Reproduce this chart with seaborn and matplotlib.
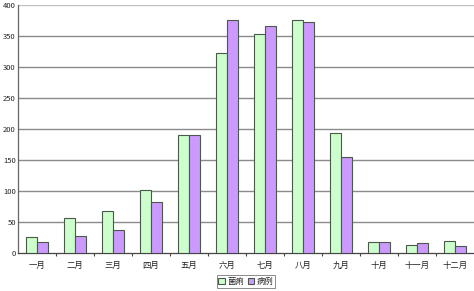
import matplotlib
matplotlib.use("Agg")
import matplotlib.pyplot as plt
from matplotlib.ticker import FixedLocator
import seaborn as sns
import pandas as pd

months = ["一月", "二月", "三月", "四月", "五月", "六月", "七月", "八月", "九月", "十月", "十一月", "十二月"]
series_a_name = "菌痢"
series_b_name = "病例"
series_a = [26, 57, 67, 101, 190, 323, 353, 376, 194, 18, 13, 19]
series_b = [18, 28, 37, 82, 191, 376, 366, 373, 155, 18, 16, 12]
yticks = [0, 50, 100, 150, 200, 250, 300, 350, 400]

df = pd.DataFrame({
    "month": months * 2,
    "value": series_a + series_b,
    "series": [series_a_name] * len(months) + [series_b_name] * len(months),
})

sns.set_theme(style="white")
plt.rcParams["font.family"] = ["Noto Sans CJK SC", "DejaVu Sans"]

fig = plt.figure(figsize=(4.74, 2.91), dpi=100)
ax = fig.add_axes([0.038, 0.1306, 0.962, 0.852])

sns.barplot(data=df, x="month", y="value", hue="series", order=months,
            hue_order=[series_a_name, series_b_name],
            palette=["#CCFFCC", "#CC99FF"], width=0.56, gap=0,
            edgecolor="#4a5a4a", linewidth=0.8, saturation=1, ax=ax, zorder=3)

ax.set_ylim(0, 400)
ax.set_xlim(-0.5, len(months) - 0.5)
ax.set_yticks(yticks)
ax.set_yticklabels([str(v) for v in yticks], fontsize=5.5, color="#222222")
ax.tick_params(axis="y", length=0, pad=1.5)
ax.tick_params(axis="x", which="major", length=0, pad=6, labelsize=6, labelcolor="#222222")
ax.xaxis.set_minor_locator(FixedLocator([i + 0.5 for i in range(len(months) - 1)]))
ax.tick_params(axis="x", which="minor", length=2, width=0.8, color="#444444", direction="out", bottom=True)
ax.set_xlabel("")
ax.set_ylabel("")

for v in yticks[1:-1]:
    ax.axhline(v, color="#8a8a8a", linewidth=1.0, zorder=1)
ax.axhline(400, color="#c0c0c0", linewidth=1.0, zorder=1)

for side in ["top", "right"]:
    ax.spines[side].set_visible(False)
ax.spines["left"].set_color("#666666")
ax.spines["left"].set_linewidth(0.9)
ax.spines["bottom"].set_color("#444444")
ax.spines["bottom"].set_linewidth(0.9)

leg = ax.legend(loc="lower center", bbox_to_anchor=(0.5, -0.14), ncol=2, fontsize=6,
                frameon=True, fancybox=False, edgecolor="#555555", handlelength=0.8,
                handleheight=0.8, handletextpad=0.3, columnspacing=0.4,
                borderpad=0.2, borderaxespad=0)
leg.get_frame().set_linewidth(0.6)

fig.savefig("out.png", dpi=100)
